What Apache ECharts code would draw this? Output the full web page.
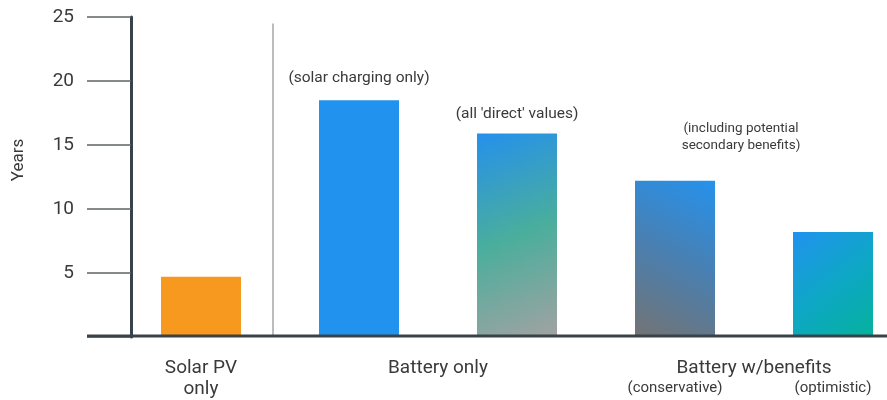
<!DOCTYPE html>
<html>
<head>
<meta charset="utf-8">
<script src="https://cdn.jsdelivr.net/npm/echarts@6/dist/echarts.min.js"></script>
<style>
  html, body { margin: 0; padding: 0; background: #ffffff; }
  #chart { width: 887px; height: 400px; }
</style>
</head>
<body>
<div id="chart"></div>
<script>
// Payback period, in years, for each scenario
const categories = ['Solar PV only', 'Battery (solar charging only)', "Battery (all 'direct' values)",
  'Battery w/benefits (conservative)', 'Battery w/benefits (optimistic)'];
const axisLabels = ['Solar PV\nonly', '', '', '(conservative)', '(optimistic)'];
const paybackYears = [4.7, 18.5, 15.9, 12.2, 8.2];
const barNotes = ['', '(solar charging only)', "(all 'direct' values)", '(including potential\nsecondary benefits)', ''];
const groupLabels = ['Battery only', 'Battery w/benefits'];
const groupMembers = [[1, 2], [3, 4]];
const yMin = 0, yMax = 25, yStep = 5;

const TEXT = '#3a3a3a';
const AXIS = '#37424a';
const FONT = 'Roboto, "Noto Sans", sans-serif';

const lg = (x, y, x2, y2, stops) => new echarts.graphic.LinearGradient(x, y, x2, y2,
  stops.map((c, i) => ({ offset: i / (stops.length - 1), color: c })));

const fills = [
  '#f7991e',
  '#2192ee',
  lg(0, 0, 1, 1, ['#2590ec', '#4aae9c', '#a2a2a2']),
  lg(1, 0, 0, 1, ['#2592ec', '#4a7fb0', '#737373']),
  lg(0, 0, 1, 1, ['#2192ee', '#0ea7c6', '#05b29c'])
];

// where each bar's note sits relative to the bar top
const noteStyle = [
  {},
  { distance: 14, fontSize: 15.5 },
  { distance: 11, fontSize: 15.5 },
  { distance: 27, fontSize: 13.5, lineHeight: 17, offset: [66, 0] },
  {}
];

const chart = echarts.init(document.getElementById('chart'), null, { renderer: 'canvas' });

const option = {
  animation: false,
  backgroundColor: '#ffffff',
  textStyle: { fontFamily: FONT },
  grid: { left: 122, top: 17, width: 790, bottom: 63, containLabel: false, outerBoundsMode: 'none' },
  xAxis: {
    type: 'category',
    data: categories,
    axisLine: { show: false },
    axisTick: { show: false },
    axisLabel: {
      interval: 0,
      margin: 21,
      formatter: (v, i) => axisLabels[i] ? (i === 0 ? '{main|' + axisLabels[i].replace('\n', '}\n{main|') + '}' : '{sub|' + axisLabels[i] + '}') : '',
      rich: {
        main: { fontSize: 19, lineHeight: 21, color: TEXT, fontFamily: FONT },
        sub: { fontSize: 15, lineHeight: 18, color: TEXT, fontFamily: FONT, padding: [42, 0, 0, 0] }
      }
    },
    splitLine: { show: false }
  },
  yAxis: {
    type: 'value',
    min: yMin, max: yMax, interval: yStep,
    offset: -9,
    name: 'Years',
    nameLocation: 'middle',
    nameGap: 104,
    nameRotate: 90,
    nameTextStyle: { fontSize: 17, color: TEXT, fontFamily: FONT, padding: [0, 0, 0, 34] },
    axisLine: { show: true, lineStyle: { color: AXIS, width: 3 } },
    axisTick: { show: true, length: 44, lineStyle: { color: '#5e6468', width: 1.5 } },
    axisLabel: {
      margin: 57, fontSize: 19, color: TEXT, fontFamily: FONT,
      formatter: v => v === 0 ? '' : String(v)
    },
    splitLine: { show: false }
  },
  series: [{
    type: 'bar',
    barWidth: 80,
    data: paybackYears.map((v, i) => ({
      value: v,
      itemStyle: { color: fills[i] },
      label: barNotes[i] ? Object.assign({
        show: true, position: 'top', formatter: barNotes[i], color: TEXT, fontFamily: FONT, align: 'center'
      }, noteStyle[i]) : { show: false }
    }))
  }]
};
chart.setOption(option);

// decorative lines and group captions placed from the axis scales
const zeroY = chart.convertToPixel({ yAxisIndex: 0 }, yMin);
const sepTop = chart.convertToPixel({ yAxisIndex: 0 }, 24.5);
const cx = i => chart.convertToPixel({ xAxisIndex: 0 }, categories[i]);
const sepX = (cx(0) + cx(1)) / 2 - 7;

const graphics = [
  { type: 'line', z: 10, shape: { x1: 87, y1: zeroY - 1, x2: 887, y2: zeroY - 1 }, style: { stroke: AXIS, lineWidth: 3 } },
  { type: 'line', z: 9, shape: { x1: sepX, y1: sepTop, x2: sepX, y2: zeroY }, style: { stroke: '#a3a7aa', lineWidth: 1.5 } }
];
groupLabels.forEach((name, g) => {
  const [a, b] = groupMembers[g];
  graphics.push({
    type: 'text', z: 10,
    x: (cx(a) + cx(b)) / 2, y: zeroY + 21,
    style: { text: name, fontSize: 19, lineHeight: 21, fill: TEXT, fontFamily: FONT, align: 'center', verticalAlign: 'top' }
  });
});
chart.setOption({ graphic: graphics });
</script>
</body>
</html>
